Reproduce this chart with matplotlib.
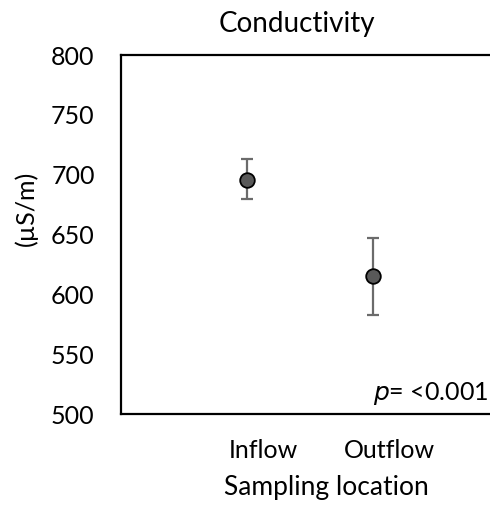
import matplotlib
matplotlib.use("Agg")
import matplotlib.pyplot as plt
from matplotlib.transforms import ScaledTranslation

matplotlib.rcParams.update({
    "font.family": ["Lato", "DejaVu Sans"],
    "font.size": 19,
})

locations = ["Inflow", "Outflow"]
means = [696, 615]
err_low = [16, 32]
err_high = [17, 32]
y_ticks = [500, 550, 600, 650, 700, 750, 800]

fig = plt.figure(figsize=(4.9, 5.05), dpi=100)
ax = fig.add_axes([0.247, 0.180, 0.7714, 0.711])

xs = [1, 2]
ax.errorbar(xs, means, yerr=[err_low, err_high], fmt="none",
            ecolor="#6b6b6b", elinewidth=1.6, capsize=4.5, capthick=1.6, zorder=2)
ax.plot(xs, means, "o", ms=10.5, mfc="#595959", mec="black", mew=1.3, zorder=3,
        linestyle="none")

ax.set_xlim(0, 3)
ax.set_ylim(500, 800)
ax.set_yticks(y_ticks)
ax.set_xticks(xs)
ax.set_xticklabels(locations)
ax.tick_params(axis="both", length=0, labelsize=18)
ax.tick_params(axis="y", pad=19)
ax.tick_params(axis="x", pad=18)
shift = ScaledTranslation(16 / 100, 0, fig.dpi_scale_trans)
for lab in ax.get_xticklabels():
    lab.set_transform(lab.get_transform() + shift)

for side in ["left", "bottom", "top"]:
    ax.spines[side].set_linewidth(1.6)
ax.spines["right"].set_visible(False)

fig.text(0.996, 0.195, r"$p$= <0.001", ha="right", va="bottom", fontsize=18)

fig.text(0.606, 0.952, "Conductivity", ha="center", va="center", fontsize=20)
fig.text(0.053, 0.588, "(µS/m)", rotation=90, ha="center", va="center", fontsize=18)
fig.text(0.667, 0.034, "Sampling location", ha="center", va="center", fontsize=19)

fig.savefig("out.png", dpi=100)
